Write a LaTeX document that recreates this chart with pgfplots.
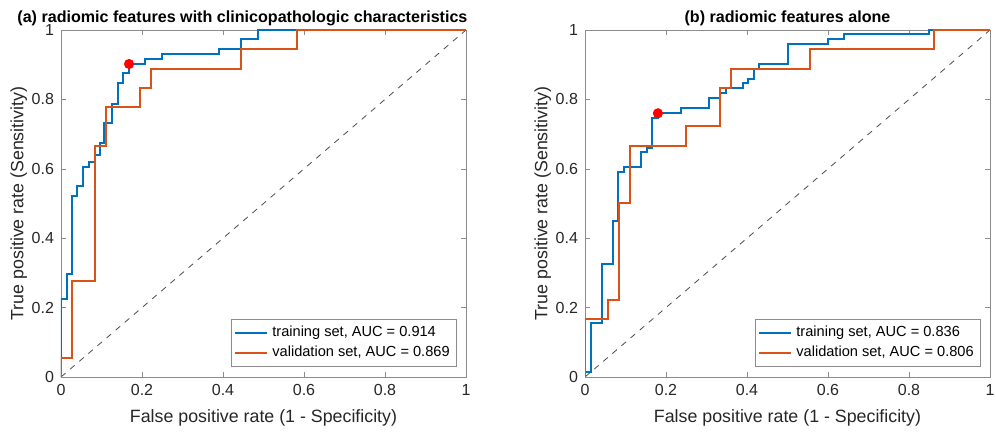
\documentclass[border=0pt]{standalone}
\usepackage{fontspec}
\setmainfont{Liberation Sans}
\usepackage{pgfplots}
\pgfplotsset{compat=1.18}

\definecolor{mblue}{rgb}{0,0.447,0.741}
\definecolor{morange}{rgb}{0.85,0.325,0.098}
\definecolor{mtext}{rgb}{0.15,0.15,0.15}

\pgfplotsset{
  rocstyle/.style={
    scale only axis, width=202.5pt, height=173.5pt,
    xmin=0, xmax=1, ymin=0, ymax=1,
    xtick={0,0.2,...,1}, ytick={0,0.2,...,1},
    tick align=inside, major tick length=2.5pt,
    axis line style={black!45}, tick style={black!45},
    /pgf/number format/assume math mode=true,
    tick label style={font=\fontsize{8}{9}\selectfont, text=mtext},
    label style={font=\fontsize{8.9}{10}\selectfont, text=mtext},
    xlabel={False positive rate (1 - Specificity)},
    ylabel={True positive rate (Sensitivity)},
    xlabel style={yshift=0pt}, ylabel style={yshift=-4.5pt},
    title style={font=\bfseries\fontsize{8.05}{9}\selectfont, anchor=south, yshift=-7.5pt},
    legend cell align=left,
    legend style={font=\fontsize{7.3}{8.5}\selectfont, draw=black!45, inner sep=1.5pt,
      row sep=-1pt, at={(0.978,0.029)}, anchor=south east},
    legend image code/.code={\draw[#1] (0pt,0pt) -- (16pt,0pt);},
    every axis plot/.append style={line width=1pt},
  },
}

\begin{document}
\begin{tikzpicture}
\useasboundingbox (0,0) rectangle (498pt,216.5pt);

% (a) with clinicopathologic characteristics
\begin{axis}[rocstyle, at={(30.5pt,28pt)}, anchor=south west,
  title={(a) radiomic features with clinicopathologic characteristics},
  title style={at={(0.448,1)}}]
\addplot[dash pattern=on 3pt off 3pt, line width=0.4pt, black!70, forget plot] coordinates {(0,0) (1,1)};
\addplot[mblue] coordinates {
  (0,0) (0,0.225) (0.014,0.225) (0.014,0.296) (0.028,0.296) (0.028,0.522)
  (0.040,0.522) (0.040,0.551) (0.055,0.551) (0.055,0.606) (0.070,0.606)
  (0.070,0.619) (0.084,0.619) (0.084,0.640) (0.096,0.640) (0.096,0.675)
  (0.107,0.675) (0.107,0.731) (0.125,0.731) (0.125,0.788) (0.140,0.788)
  (0.140,0.846) (0.154,0.846) (0.154,0.875) (0.168,0.875) (0.168,0.902)
  (0.207,0.902) (0.207,0.916) (0.250,0.916) (0.250,0.930) (0.390,0.930)
  (0.390,0.944) (0.444,0.944) (0.444,0.973) (0.487,0.973) (0.487,1) (1,1)};
\addplot[morange] coordinates {
  (0,0) (0,0.056) (0.028,0.056) (0.028,0.278) (0.083,0.278) (0.083,0.667)
  (0.111,0.667) (0.111,0.778) (0.194,0.778) (0.194,0.833) (0.222,0.833)
  (0.222,0.889) (0.444,0.889) (0.444,0.944) (0.583,0.944) (0.583,1) (1,1)};
\addplot[only marks, mark=*, mark size=2pt, red, forget plot] coordinates {(0.168,0.902)};
\legend{training set{,} AUC = 0.914, validation set{,} AUC = 0.869}
\end{axis}

% (b) radiomic features alone
\begin{axis}[rocstyle, at={(292.5pt,28pt)}, anchor=south west,
  title={(b) radiomic features alone}]
\addplot[dash pattern=on 3pt off 3pt, line width=0.4pt, black!70, forget plot] coordinates {(0,0) (1,1)};
\addplot[mblue] coordinates {
  (0,0) (0,0.014) (0.014,0.014) (0.014,0.155) (0.041,0.155) (0.041,0.325)
  (0.068,0.325) (0.068,0.450) (0.081,0.450) (0.081,0.592) (0.097,0.592)
  (0.097,0.606) (0.138,0.606) (0.138,0.647) (0.152,0.647) (0.152,0.661)
  (0.166,0.661) (0.166,0.747) (0.180,0.747) (0.180,0.760) (0.236,0.760)
  (0.236,0.774) (0.306,0.774) (0.306,0.803) (0.333,0.803) (0.333,0.817)
  (0.347,0.817) (0.347,0.832) (0.389,0.832) (0.389,0.846) (0.403,0.846)
  (0.403,0.860) (0.417,0.860) (0.417,0.888) (0.430,0.888) (0.430,0.902)
  (0.500,0.902) (0.500,0.959) (0.600,0.959) (0.600,0.973) (0.640,0.973)
  (0.640,0.988) (0.850,0.988) (0.850,1) (1,1)};
\addplot[morange] coordinates {
  (0,0) (0,0.167) (0.056,0.167) (0.056,0.222) (0.083,0.222) (0.083,0.500)
  (0.111,0.500) (0.111,0.667) (0.250,0.667) (0.250,0.722) (0.333,0.722)
  (0.333,0.833) (0.361,0.833) (0.361,0.889) (0.556,0.889) (0.556,0.944)
  (0.861,0.944) (0.861,1) (1,1)};
\addplot[only marks, mark=*, mark size=2pt, red, forget plot] coordinates {(0.180,0.760)};
\legend{training set{,} AUC = 0.836, validation set{,} AUC = 0.806}
\end{axis}
\end{tikzpicture}
\end{document}
